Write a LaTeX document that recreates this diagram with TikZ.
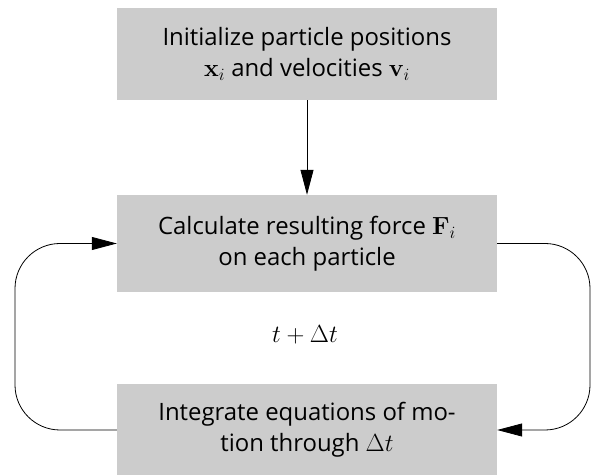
\documentclass[tikz,border=0pt]{standalone}
\usepackage{amsmath,amssymb}
\usepackage[no-math]{fontspec}
\setmainfont{Open Sans}
\usepackage{xcolor}
\usetikzlibrary{arrows.meta,positioning}
\definecolor{boxgray}{HTML}{CCCCCC}

\begin{document}
\begin{tikzpicture}[x=1bp,y=1bp, every node/.style={font=\fontsize{24}{31}\selectfont},
  box/.style={fill=boxgray,align=center,minimum width=380bp,inner sep=0pt},
  arr/.style={-{Triangle[length=25bp,width=13bp]},line width=0.8bp}]
\useasboundingbox (0,0) rectangle (592,475);
\node[box,minimum height=92bp] (init) at (307,421) {Initialize particle positions\\$\mathbf{x}_i$ and velocities $\mathbf{v}_i$};
\node[box,minimum height=97bp] (calc) at (307,231.5) {Calculate resulting force $\mathbf{F}_i$\\on each particle};
\node[box,minimum height=92bp] (integ) at (307,45) {Integrate equations of mo-\\tion through $\Delta t$};
\node (step) at (305,140) {$t+\Delta t$};
\coordinate (lft) at (15,0);
\coordinate (rgt) at (590,0);
\draw[arr] (init) -- (calc);
\draw[arr,rounded corners=45bp] (integ.west) -- (integ.west -| lft) -- (calc.west -| lft) -- (calc.west);
\draw[arr,rounded corners=45bp] (calc.east) -- (calc.east -| rgt) -- (integ.east -| rgt) -- (integ.east);
\end{tikzpicture}
\end{document}
